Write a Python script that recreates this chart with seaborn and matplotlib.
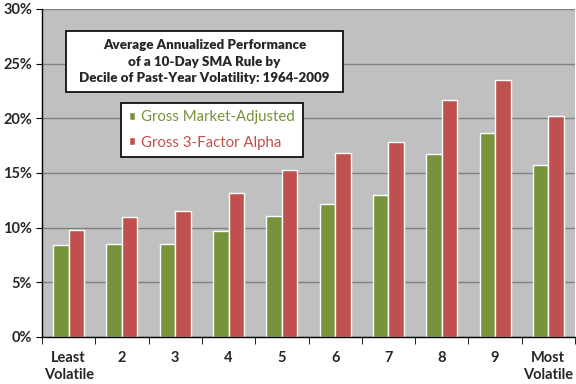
import numpy as np
import pandas as pd
import matplotlib
matplotlib.use("Agg")
import matplotlib.pyplot as plt
from matplotlib.patches import Rectangle
from matplotlib.ticker import FuncFormatter, FixedLocator
import seaborn as sns

# --- DATA ---
categories = ["Least\nVolatile", "2", "3", "4", "5", "6", "7", "8", "9", "Most\nVolatile"]
market_adjusted = [8.4, 8.5, 8.5, 9.7, 11.1, 12.2, 13.0, 16.7, 18.7, 15.7]
three_factor = [9.8, 11.0, 11.5, 13.2, 15.3, 16.8, 17.8, 21.7, 23.5, 20.2]
series_names = ["Gross Market-Adjusted", "Gross 3-Factor Alpha"]
y_ticks = [0, 5, 10, 15, 20, 25, 30]
title_text = "Average Annualized Performance\nof a 10-Day SMA Rule by\nDecile of Past-Year Volatility: 1964-2009"

COLORS = ["#77933C", "#C0504D"]

df = pd.DataFrame({"decile": categories,
                   series_names[0]: market_adjusted,
                   series_names[1]: three_factor})
long = df.melt(id_vars="decile", var_name="series", value_name="value")

sns.set_style("white")
plt.rcParams["font.family"] = ["Lato", "DejaVu Sans"]
plt.rcParams["font.weight"] = "bold"

fig = plt.figure(figsize=(5.76, 3.84), dpi=100)
ax = fig.add_axes([42 / 576, 1 - 337 / 384, 533 / 576, 328 / 384])
ax.set_facecolor("#C0C0C0")

sns.barplot(data=long, x="decile", y="value", hue="series", palette=COLORS,
            width=0.58, gap=0, saturation=1, ax=ax, legend=True)

# --- AXES ---
ax.set_ylim(0, 30)
ax.set_xlim(-0.5, len(categories) - 0.5)
ax.set_yticks(y_ticks)
ax.yaxis.set_major_formatter(FuncFormatter(lambda v, p: f"{v:.0f}%"))
ax.grid(axis="y", color="#808080", linewidth=1)
ax.set_axisbelow(True)
ax.set_xlabel("")
ax.set_ylabel("")
for s in ["top", "right"]:
    ax.spines[s].set_visible(False)
for s in ["left", "bottom"]:
    ax.spines[s].set_color("black")
    ax.spines[s].set_linewidth(1)
ax.tick_params(axis="y", length=4, direction="out", color="black", labelsize=10.5, pad=3)
ax.tick_params(axis="x", which="major", length=0, labelsize=10.5, pad=10)
ax.xaxis.set_minor_locator(FixedLocator(np.arange(-0.5, len(categories), 1.0)))
ax.tick_params(axis="x", which="minor", length=5, direction="out", color="black")
for lbl in ax.get_xticklabels() + ax.get_yticklabels():
    lbl.set_fontweight("bold")
for lbl in ax.get_xticklabels():
    lbl.set_linespacing(1.25)
ax.yaxis.set_ticks_position("left")
ax.xaxis.set_ticks_position("bottom")

# --- LEGEND ---
handles, labels = ax.get_legend_handles_labels()
leg = ax.legend(handles, labels, loc="upper left",
                bbox_to_anchor=(121 / 576, 1 - 103 / 384), bbox_transform=fig.transFigure,
                frameon=True, fancybox=False, edgecolor="black", framealpha=1,
                handlelength=0.45, handleheight=0.45, handletextpad=0.4,
                labelspacing=0.75, borderpad=0.5, borderaxespad=0,
                labelcolor="linecolor", prop={"weight": "normal", "size": 10.8})
leg.get_frame().set_linewidth(1.2)

# --- TITLE BOX ---
fig.patches.append(Rectangle((66 / 576, 1 - 92 / 384), 277 / 576, 61 / 384,
                             transform=fig.transFigure, facecolor="white",
                             edgecolor="black", linewidth=1.2, zorder=5))
fig.text(204.5 / 576, 1 - 61.5 / 384, title_text, ha="center", va="center",
         fontsize=9.6, fontweight="heavy", linespacing=1.45, zorder=6)

fig.savefig("out.png", dpi=100)
